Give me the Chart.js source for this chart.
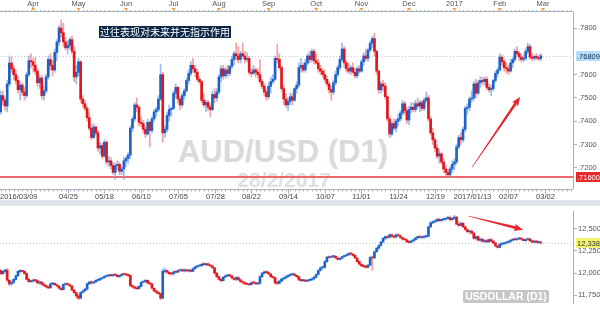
<!DOCTYPE html>
<html lang="zh">
<head>
<meta charset="UTF-8">
<title>AUD/USD (D1)</title>
<script src="https://cdn.jsdelivr.net/npm/chart.js"></script>
<style>
  body { margin: 0; width: 600px; height: 309px; overflow: hidden; background: #fff; position: relative;
         font-family: "Liberation Sans", Arial, sans-serif; }
  canvas { position: absolute; left: 0; z-index: 1; }
  #topChart { top: 0; }
  #bottomChart { top: 206px; }
  .sep { position: absolute; left: 0; top: 200px; width: 600px; height: 6px; background: #dfe4ea; }
  .wm { position: absolute; z-index: 0; font-weight: bold; white-space: nowrap; transform: translateX(-50%); }
  .wm1 { left: 283px; top: 134px; font-size: 31px; color: #dadada; }
  .wm2 { left: 284px; top: 168px; font-size: 21px; color: #e0e0e0; }
  .note { position: absolute; z-index: 2; left: 99px; top: 26px; height: 12px; line-height: 12px; padding: 0 1px;
          background: #0d2847; color: #fff; font-size: 10px; font-family: "Noto Sans CJK SC", sans-serif; }
  .tag { position: absolute; z-index: 2; left: 463px; top: 290px; width: 86px; height: 13px; line-height: 13px;
         background: #c6c6c6; color: #fff; font-weight: bold; font-size: 10.5px; text-align: center; border-radius: 2px; }
</style>
</head>
<body>
<div class="wm wm1">AUD/USD (D1)</div>
<div class="wm wm2">28/2/2017</div>
<div class="sep"></div>
<canvas id="topChart" width="600" height="200"></canvas>
<canvas id="bottomChart" width="600" height="103"></canvas>
<div class="note">过往表现对未来并无指示作用</div>
<div class="tag">USDOLLAR (D1)</div>
<script>
// daily bars, 2016/03/09 .. 2017/02/28
const audOpen = [.7440,.7460,.7440,.7510,.7490,.7465,.7560,.7650,.7625,.7600,.7575,.7535,.7555,.7525,.7510,.7600,.7660,.7655,.7640,.7615,
.7565,.7585,.7510,.7530,.7590,.7665,.7640,.7620,.7695,.7740,.7800,.7780,.7740,.7715,.7725,.7750,.7700,.7590,.7610,.7655,
.7495,.7475,.7455,.7415,.7370,.7330,.7375,.7350,.7285,.7295,.7250,.7310,.7225,.7230,.7210,.7180,.7210,.7215,.7185,.7195,
.7230,.7240,.7255,.7370,.7410,.7470,.7460,.7395,.7390,.7365,.7345,.7395,.7360,.7410,.7440,.7450,.7495,.7600,.7350,.7365,
.7425,.7450,.7455,.7520,.7545,.7495,.7470,.7510,.7530,.7575,.7605,.7640,.7625,.7610,.7580,.7570,.7490,.7470,.7480,.7460,
.7450,.7515,.7500,.7525,.7590,.7625,.7595,.7620,.7605,.7635,.7665,.7690,.7680,.7665,.7690,.7680,.7665,.7670,.7610,.7605,
.7620,.7610,.7600,.7570,.7550,.7525,.7505,.7550,.7570,.7580,.7670,.7665,.7630,.7540,.7495,.7470,.7485,.7505,.7490,.7540,
.7555,.7630,.7640,.7620,.7650,.7680,.7665,.7700,.7660,.7650,.7625,.7615,.7600,.7580,.7560,.7535,.7525,.7565,.7600,.7630,
.7665,.7710,.7650,.7625,.7615,.7630,.7610,.7595,.7625,.7615,.7655,.7680,.7670,.7705,.7735,.7755,.7700,.7615,.7535,.7560,
.7550,.7505,.7410,.7345,.7390,.7370,.7400,.7410,.7435,.7475,.7445,.7405,.7450,.7460,.7450,.7475,.7465,.7480,.7455,.7490,
.7500,.7410,.7350,.7320,.7285,.7250,.7260,.7225,.7195,.7180,.7170,.7195,.7215,.7225,.7290,.7330,.7320,.7365,.7455,.7460,
.7495,.7500,.7560,.7520,.7565,.7575,.7570,.7580,.7545,.7535,.7540,.7575,.7605,.7620,.7675,.7655,.7630,.7625,.7615,.7650,
.7665,.7700,.7690,.7675,.7665,.7670,.7700,.7720,.7675,.7670,.7678,.7672,.7668];
const audHigh = [.7480,.7490,.7530,.7530,.7500,.7575,.7680,.7675,.7640,.7620,.7590,.7570,.7565,.7545,.7610,.7680,.7690,.7670,.7675,.7625,
.7600,.7595,.7545,.7600,.7680,.7690,.7660,.7710,.7750,.7810,.7835,.7820,.7760,.7745,.7760,.7765,.7720,.7640,.7670,.7660,
.7510,.7490,.7465,.7440,.7385,.7390,.7380,.7360,.7310,.7305,.7320,.7315,.7250,.7245,.7225,.7220,.7230,.7225,.7205,.7245,
.7250,.7265,.7380,.7420,.7480,.7500,.7465,.7420,.7405,.7375,.7410,.7400,.7420,.7450,.7460,.7510,.7645,.7610,.7380,.7440,
.7470,.7460,.7530,.7560,.7550,.7505,.7520,.7540,.7585,.7620,.7655,.7670,.7640,.7620,.7590,.7575,.7520,.7490,.7490,.7470,
.7530,.7540,.7540,.7600,.7640,.7640,.7630,.7640,.7640,.7680,.7700,.7735,.7720,.7700,.7735,.7700,.7695,.7680,.7625,.7640,
.7630,.7625,.7665,.7580,.7560,.7535,.7565,.7590,.7600,.7680,.7730,.7690,.7640,.7555,.7520,.7500,.7520,.7520,.7545,.7570,
.7650,.7670,.7650,.7665,.7690,.7700,.7710,.7710,.7690,.7665,.7640,.7625,.7620,.7595,.7570,.7550,.7575,.7615,.7640,.7680,
.7735,.7720,.7660,.7650,.7640,.7650,.7625,.7635,.7640,.7665,.7695,.7710,.7715,.7745,.7765,.7778,.7705,.7620,.7570,.7575,
.7565,.7510,.7420,.7400,.7410,.7410,.7430,.7445,.7490,.7485,.7460,.7465,.7480,.7480,.7490,.7500,.7490,.7490,.7500,.7525,
.7510,.7420,.7370,.7330,.7300,.7280,.7265,.7240,.7210,.7195,.7205,.7230,.7240,.7300,.7340,.7350,.7375,.7465,.7475,.7505,
.7530,.7570,.7580,.7575,.7590,.7590,.7590,.7590,.7560,.7555,.7580,.7615,.7630,.7690,.7685,.7665,.7650,.7640,.7665,.7675,
.7710,.7720,.7700,.7690,.7685,.7710,.7735,.7730,.7690,.7685,.7690,.7685,.7690];
const audLow = [.7420,.7400,.7430,.7470,.7445,.7440,.7550,.7610,.7580,.7560,.7520,.7490,.7510,.7490,.7500,.7590,.7630,.7610,.7600,.7550,
.7540,.7495,.7490,.7520,.7580,.7620,.7595,.7610,.7660,.7725,.7760,.7720,.7705,.7690,.7710,.7690,.7570,.7560,.7595,.7480,
.7460,.7445,.7400,.7360,.7320,.7325,.7340,.7270,.7260,.7240,.7245,.7215,.7205,.7195,.7170,.7150,.7190,.7170,.7170,.7150,
.7205,.7220,.7240,.7355,.7400,.7440,.7380,.7375,.7350,.7330,.7340,.7290,.7350,.7400,.7420,.7440,.7490,.7310,.7330,.7355,
.7400,.7420,.7450,.7500,.7480,.7450,.7460,.7495,.7525,.7560,.7595,.7610,.7590,.7570,.7560,.7480,.7460,.7440,.7445,.7420,
.7445,.7480,.7485,.7515,.7570,.7580,.7585,.7590,.7595,.7625,.7640,.7660,.7650,.7650,.7675,.7650,.7655,.7600,.7590,.7600,
.7590,.7585,.7560,.7540,.7510,.7490,.7495,.7520,.7560,.7575,.7650,.7620,.7530,.7470,.7460,.7445,.7470,.7470,.7485,.7520,
.7545,.7610,.7610,.7610,.7640,.7650,.7655,.7645,.7645,.7610,.7600,.7590,.7570,.7550,.7520,.7490,.7515,.7555,.7590,.7620,
.7655,.7630,.7610,.7605,.7600,.7605,.7585,.7585,.7605,.7610,.7640,.7660,.7655,.7700,.7715,.7680,.7600,.7520,.7520,.7530,
.7495,.7400,.7330,.7335,.7360,.7355,.7380,.7400,.7425,.7430,.7390,.7385,.7435,.7440,.7440,.7455,.7440,.7445,.7445,.7480,
.7400,.7340,.7300,.7270,.7240,.7220,.7215,.7180,.7165,.7160,.7160,.7180,.7190,.7215,.7280,.7300,.7310,.7355,.7430,.7445,
.7480,.7490,.7500,.7515,.7545,.7555,.7555,.7535,.7525,.7510,.7530,.7565,.7590,.7615,.7640,.7615,.7605,.7600,.7610,.7630,
.7655,.7680,.7660,.7655,.7655,.7660,.7690,.7665,.7660,.7660,.7665,.7660,.7660];
const audClose = [.7460,.7440,.7510,.7490,.7465,.7560,.7650,.7625,.7600,.7575,.7535,.7555,.7525,.7510,.7600,.7660,.7655,.7640,.7615,.7565,
.7585,.7510,.7530,.7590,.7665,.7640,.7620,.7695,.7740,.7800,.7780,.7740,.7715,.7725,.7750,.7700,.7590,.7610,.7655,.7495,
.7475,.7455,.7415,.7370,.7330,.7375,.7350,.7285,.7295,.7250,.7310,.7225,.7230,.7210,.7180,.7210,.7215,.7185,.7195,.7230,
.7240,.7255,.7370,.7410,.7470,.7460,.7395,.7390,.7365,.7345,.7395,.7360,.7410,.7440,.7450,.7495,.7600,.7350,.7365,.7425,
.7450,.7455,.7520,.7545,.7495,.7470,.7510,.7530,.7575,.7605,.7640,.7625,.7610,.7580,.7570,.7490,.7470,.7480,.7460,.7450,
.7515,.7500,.7525,.7590,.7625,.7595,.7620,.7605,.7635,.7665,.7690,.7680,.7665,.7690,.7680,.7665,.7670,.7610,.7605,.7620,
.7610,.7600,.7570,.7550,.7525,.7505,.7550,.7570,.7580,.7670,.7665,.7630,.7540,.7495,.7470,.7485,.7505,.7490,.7540,.7555,
.7630,.7640,.7620,.7650,.7680,.7665,.7700,.7660,.7650,.7625,.7615,.7600,.7580,.7560,.7535,.7525,.7565,.7600,.7630,.7665,
.7710,.7650,.7625,.7615,.7630,.7610,.7595,.7625,.7615,.7655,.7680,.7670,.7705,.7735,.7755,.7700,.7615,.7535,.7560,.7550,
.7505,.7410,.7345,.7390,.7370,.7400,.7410,.7435,.7475,.7445,.7405,.7450,.7460,.7450,.7475,.7465,.7480,.7455,.7490,.7500,
.7410,.7350,.7320,.7285,.7250,.7260,.7225,.7195,.7180,.7170,.7195,.7215,.7225,.7290,.7330,.7320,.7365,.7455,.7460,.7495,
.7500,.7560,.7520,.7565,.7575,.7570,.7580,.7545,.7535,.7540,.7575,.7605,.7620,.7675,.7655,.7630,.7625,.7615,.7650,.7665,
.7700,.7690,.7675,.7665,.7670,.7700,.7720,.7675,.7670,.7678,.7672,.7668,.76809];

const usdOpen = [12040,12050,12030,11995,12020,12035,11920,11880,11895,11930,11970,12020,12025,12020,11995,11930,11905,11912,11920,11915,
11890,11900,11875,11860,11845,11835,11880,11885,11870,11855,11830,11815,11875,11880,11870,11855,11810,11780,11745,11720,
11785,11800,11820,11880,11900,11890,11900,11918,11925,11940,11948,11962,11970,11975,11972,11985,11978,11960,11975,11990,
11985,11980,11975,11860,11845,11830,11825,11852,11898,11905,11920,11890,11880,11830,11800,11785,11770,11720,12020,12030,
12010,11995,11990,12015,12010,12030,12035,12025,12030,12025,12030,12020,12050,12070,12080,12085,12100,12095,12105,12090,
12080,12060,12000,11960,11930,11915,11955,11970,11980,11970,11945,11930,11950,11925,11905,11895,11880,11875,11870,11895,
11890,11880,11888,11960,12000,12015,12005,11990,11960,11950,11890,11885,11910,11935,11945,11960,11975,11985,11990,11975,
11960,11925,11915,11920,11910,11918,11925,11935,11955,11985,12030,12060,12065,12130,12180,12175,12185,12190,12170,12155,
12165,12185,12195,12205,12220,12215,12200,12170,12130,12100,12080,12075,12065,12090,12175,12170,12240,12280,12310,12350,
12390,12410,12400,12430,12415,12405,12430,12420,12400,12380,12375,12350,12345,12360,12375,12395,12410,12400,12405,12410,
12415,12520,12565,12575,12585,12605,12590,12600,12605,12615,12625,12600,12615,12630,12550,12535,12560,12520,12490,12465,
12470,12450,12390,12410,12370,12380,12355,12365,12350,12378,12360,12340,12305,12290,12325,12330,12338,12345,12355,12370,
12378,12375,12385,12392,12380,12365,12378,12385,12362,12348,12360,12345,12350];
const usdHigh = [12070,12080,12040,12030,12045,12050,11930,11910,11940,11980,12030,12040,12035,12030,12005,11950,11920,11935,11930,11925,
11910,11905,11890,11870,11860,11890,11895,11890,11880,11865,11845,11880,11890,11895,11880,11865,11815,11790,11760,11790,
11810,11830,11890,11910,11915,11905,11925,11935,11950,11955,11975,11980,11985,11990,11990,11995,11985,11980,11995,12000,
11995,11990,11980,11870,11855,11850,11860,11905,11915,11930,11925,11900,11885,11835,11810,11795,11775,12050,12060,12040,
12020,12010,12025,12030,12040,12045,12050,12050,12045,12040,12045,12060,12080,12090,12095,12110,12115,12110,12115,12100,
12090,12065,12010,11970,11945,11960,11980,11990,11990,11975,11950,11960,11960,11935,11915,11905,11890,11885,11900,11905,
11900,11895,11970,12010,12025,12030,12020,12000,11970,11955,11905,11920,11940,11955,11970,11980,11995,12000,12000,11985,
11965,11935,11930,11930,11925,11935,11945,11965,11995,12040,12070,12080,12140,12190,12195,12195,12200,12200,12180,12175,
12190,12200,12215,12230,12235,12225,12210,12175,12140,12110,12090,12090,12100,12190,12195,12250,12290,12320,12360,12400,
12420,12420,12440,12440,12425,12440,12445,12430,12405,12395,12385,12365,12370,12385,12400,12420,12425,12415,12420,12425,
12530,12580,12590,12595,12615,12620,12610,12615,12625,12640,12640,12625,12650,12640,12575,12575,12570,12530,12500,12480,
12490,12460,12420,12420,12390,12395,12375,12380,12385,12390,12370,12345,12315,12330,12340,12345,12355,12365,12375,12385,
12395,12395,12400,12405,12390,12385,12395,12390,12375,12370,12368,12360,12360];
const usdLow = [12010,12000,11980,11980,12000,11900,11860,11865,11885,11920,11960,12005,12010,11985,11920,11890,11895,11895,11905,11880,
11870,11865,11850,11835,11825,11830,11865,11860,11845,11820,11805,11810,11860,11860,11845,11800,11770,11720,11700,11710,
11770,11790,11810,11870,11880,11880,11890,11905,11915,11930,11940,11955,11960,11965,11960,11970,11950,11950,11965,11975,
11970,11960,11850,11835,11820,11815,11820,11845,11890,11895,11880,11870,11820,11790,11770,11760,11700,11710,12000,11995,
11980,11975,11980,12000,12005,12020,12015,12010,12015,12010,12015,12015,12040,12060,12070,12075,12085,12080,12085,12070,
12050,11990,11950,11920,11900,11910,11945,11960,11960,11935,11920,11915,11920,11895,11880,11870,11865,11860,11865,11880,
11870,11870,11870,11950,11990,11995,11980,11945,11940,11880,11870,11880,11905,11925,11935,11950,11965,11970,11965,11950,
11915,11900,11905,11905,11900,11910,11915,11925,11945,11980,12020,12040,12055,12120,12165,12170,12170,12160,12145,12145,
12160,12180,12185,12195,12205,12190,12160,12120,12090,12070,12060,12055,12060,12085,12030,12160,12230,12260,12300,12340,
12375,12385,12395,12400,12390,12400,12415,12390,12370,12365,12340,12335,12340,12355,12365,12385,12395,12385,12390,12395,
12405,12510,12555,12565,12575,12580,12575,12590,12595,12605,12590,12590,12600,12540,12520,12530,12510,12480,12450,12440,
12440,12380,12370,12360,12355,12345,12340,12345,12345,12350,12330,12295,12280,12285,12310,12320,12325,12335,12345,12360,
12365,12365,12375,12370,12360,12355,12370,12355,12340,12340,12335,12330,12330];
const usdClose = [12050,12030,11995,12020,12035,11920,11880,11895,11930,11970,12020,12025,12020,11995,11930,11905,11912,11920,11915,11890,
11900,11875,11860,11845,11835,11880,11885,11870,11855,11830,11815,11875,11880,11870,11855,11810,11780,11745,11720,11785,
11800,11820,11880,11900,11890,11900,11918,11925,11940,11948,11962,11970,11975,11972,11985,11978,11960,11975,11990,11985,
11980,11975,11860,11845,11830,11825,11852,11898,11905,11920,11890,11880,11830,11800,11785,11770,11720,12020,12030,12010,
11995,11990,12015,12010,12030,12035,12025,12030,12025,12030,12020,12050,12070,12080,12085,12100,12095,12105,12090,12080,
12060,12000,11960,11930,11915,11955,11970,11980,11970,11945,11930,11950,11925,11905,11895,11880,11875,11870,11895,11890,
11880,11888,11960,12000,12015,12005,11990,11960,11950,11890,11885,11910,11935,11945,11960,11975,11985,11990,11975,11960,
11925,11915,11920,11910,11918,11925,11935,11955,11985,12030,12060,12065,12130,12180,12175,12185,12190,12170,12155,12165,
12185,12195,12205,12220,12215,12200,12170,12130,12100,12080,12075,12065,12090,12175,12170,12240,12280,12310,12350,12390,
12410,12400,12430,12415,12405,12430,12420,12400,12380,12375,12350,12345,12360,12375,12395,12410,12400,12405,12410,12415,
12520,12565,12575,12585,12605,12590,12600,12605,12615,12625,12600,12615,12630,12550,12535,12560,12520,12490,12465,12470,
12450,12390,12410,12370,12380,12355,12365,12350,12378,12360,12340,12305,12290,12325,12330,12338,12345,12355,12370,12378,
12375,12385,12392,12380,12365,12378,12385,12362,12348,12360,12345,12350,12338];

// axis labels (bar index where each label sits)
const monthLabels = ['Apr','May','Jun','Jul','Aug','Sep','Oct','Nov','Dec','2017','Feb','Mar'];
const monthIdx = [17, 38, 60, 82, 103, 126, 148, 169, 191, 212, 233, 253];
const dateLabels = ['2016/03/09','','04/25','05/18','06/10','07/05','07/28','08/22','09/14','10/07','11/01','11/24','12/19','2017/01/13','02/07','03/02'];
const dateIdx = [0, 16, 33, 50, 67, 84, 101, 118, 135, 152, 169, 186, 203, 220, 237, 254];
const audTicks = [.72, .73, .74, .75, .76, .78];
const usdTicks = [11750, 12000, 12250, 12500];
const supportLevel = .7160;
const arrowUp = [[220.2, .7203], [242.4, .7504]];
const arrowDown = [[218.4, 12642], [243.8, 12488]];

const xMin = 1.67, xMax = 266.9;
const axisColor = '#a9b2bc';
const labelFont = { family: '"Liberation Sans", Arial, sans-serif', size: 7.5 };
const upBody = '#1d62c9', downBody = '#e3141b';
const upWick = 'rgba(118,165,228,0.75)', downWick = 'rgba(240,120,120,0.7)';

function candleSets(o, h, l, c) {
  const up = c.map((v, i) => v >= o[i]);
  return [
    { data: c.map((v, i) => ({ x: i, y: [l[i], h[i]] })), backgroundColor: up.map(u => u ? upWick : downWick),
      barThickness: 1, grouped: false, order: 2, clip: 0 },
    { data: c.map((v, i) => ({ x: i, y: [o[i], v] })), backgroundColor: up.map(u => u ? upBody : downBody),
      barThickness: 2, grouped: false, order: 1, minBarLength: 1, clip: 0 }
  ];
}

function drawArrow(ctx, x1, y1, x2, y2) {
  const ang = Math.atan2(y2 - y1, x2 - x1), len = Math.hypot(x2 - x1, y2 - y1);
  ctx.save();
  ctx.translate(x1, y1); ctx.rotate(ang);
  ctx.fillStyle = '#e8232b';
  ctx.beginPath();
  ctx.moveTo(0, -0.3); ctx.lineTo(len - 8, -1.4); ctx.lineTo(len - 9, -3.6); ctx.lineTo(len, 0);
  ctx.lineTo(len - 9, 3.6); ctx.lineTo(len - 8, 1.4); ctx.lineTo(0, 0.3);
  ctx.closePath(); ctx.fill();
  ctx.restore();
}

function priceBox(ctx, yPix, text, bg, fg) {
  ctx.fillStyle = bg;
  ctx.fillRect(576, Math.round(yPix) - 5, 24, 10);
  ctx.fillStyle = fg;
  ctx.font = '7.5px "Liberation Sans", Arial, sans-serif';
  ctx.textAlign = 'left'; ctx.textBaseline = 'middle';
  ctx.fillText(text, 577, Math.round(yPix) + 0.5);
}

function dottedLine(ctx, a, yPix) {
  const yy = Math.round(yPix) + 0.5;
  ctx.save();
  ctx.strokeStyle = '#c9c9c9'; ctx.lineWidth = 1; ctx.setLineDash([1, 2]);
  ctx.beginPath(); ctx.moveTo(a.left, yy); ctx.lineTo(a.right, yy); ctx.stroke();
  ctx.restore();
}

const topDecor = {
  id: 'topDecor',
  beforeDatasetsDraw(chart) {
    const { ctx, chartArea: a, scales: { y } } = chart;
    dottedLine(ctx, a, y.getPixelForValue(audClose[audClose.length - 1]));
    const ys = Math.round(y.getPixelForValue(supportLevel));
    ctx.save();
    ctx.strokeStyle = 'rgba(236,90,90,0.9)'; ctx.lineWidth = 2;
    ctx.beginPath(); ctx.moveTo(a.left, ys); ctx.lineTo(a.right, ys); ctx.stroke();
    ctx.restore();
  },
  afterDraw(chart) {
    const { ctx, chartArea: a, scales: { x, y } } = chart;
    ctx.save();
    // top month ruler
    ctx.strokeStyle = axisColor; ctx.lineWidth = 1;
    ctx.beginPath(); ctx.moveTo(0, a.top - 0.5); ctx.lineTo(a.right, a.top - 0.5); ctx.stroke();
    ctx.font = '7.5px "Liberation Sans", Arial, sans-serif';
    ctx.textAlign = 'center'; ctx.textBaseline = 'middle';
    for (let k = 2; k < xMax; k += 2) {
      const px = Math.round(x.getPixelForValue(k)) + 0.5;
      ctx.beginPath(); ctx.moveTo(px, a.top - 2); ctx.lineTo(px, a.top); ctx.stroke();
    }
    monthLabels.forEach((m, i) => {
      const px = x.getPixelForValue(monthIdx[i]);
      ctx.fillStyle = '#555';
      ctx.fillText(m, px, 4);
      ctx.fillStyle = '#f0a030';
      ctx.beginPath(); ctx.moveTo(px - 2, 8); ctx.lineTo(px + 2, 8); ctx.lineTo(px, 11); ctx.closePath(); ctx.fill();
    });
    // bottom date ruler
    const yb = a.bottom + 1.5;
    ctx.beginPath(); ctx.moveTo(0, yb); ctx.lineTo(a.right, yb); ctx.stroke();
    for (let k = 2; k < xMax; k += 2) {
      const px = Math.round(x.getPixelForValue(k)) + 0.5;
      ctx.beginPath(); ctx.moveTo(px, yb); ctx.lineTo(px, yb + 2); ctx.stroke();
    }
    ctx.fillStyle = '#444';
    dateLabels.forEach((d, i) => {
      const px = Math.round(x.getPixelForValue(dateIdx[i])) + 0.5;
      ctx.beginPath(); ctx.moveTo(px, yb); ctx.lineTo(px, yb + 4); ctx.stroke();
      if (!d) return;
      if (i === 0) { ctx.textAlign = 'left'; ctx.fillText(d, 0, 197); }
      else { ctx.textAlign = 'center'; ctx.fillText(d, px, 197); }
    });
    // annotation arrow
    drawArrow(ctx, x.getPixelForValue(arrowUp[0][0]), y.getPixelForValue(arrowUp[0][1]),
                   x.getPixelForValue(arrowUp[1][0]), y.getPixelForValue(arrowUp[1][1]));
    // price tags
    priceBox(ctx, y.getPixelForValue(audClose[audClose.length - 1]),
             audClose[audClose.length - 1].toFixed(5).slice(1), '#b6dcf6', '#0d2f5c');
    priceBox(ctx, y.getPixelForValue(supportLevel), supportLevel.toFixed(5).slice(1), '#e52a2a', '#fff');
    ctx.restore();
  }
};

const bottomDecor = {
  id: 'bottomDecor',
  beforeDatasetsDraw(chart) {
    const { ctx, chartArea: a, scales: { y } } = chart;
    dottedLine(ctx, a, y.getPixelForValue(usdClose[usdClose.length - 1]));
  },
  afterDraw(chart) {
    const { ctx, scales: { x, y } } = chart;
    ctx.save();
    drawArrow(ctx, x.getPixelForValue(arrowDown[0][0]), y.getPixelForValue(arrowDown[0][1]),
                   x.getPixelForValue(arrowDown[1][0]), y.getPixelForValue(arrowDown[1][1]));
    const last = usdClose[usdClose.length - 1];
    priceBox(ctx, y.getPixelForValue(last), last.toLocaleString('en-US'), '#f3f36e', '#333');
    ctx.restore();
  }
};

function makeChart(id, sets, yMin, yMax, ticks, fmt, padding, plugin) {
  return new Chart(document.getElementById(id), {
    type: 'bar',
    data: { datasets: sets },
    plugins: [plugin],
    options: {
      responsive: false,
      animation: false,
      events: [],
      layout: { padding },
      plugins: { legend: { display: false }, tooltip: { enabled: false } },
      scales: {
        x: { type: 'linear', display: false, min: xMin, max: xMax, offset: false },
        y: {
          position: 'right', min: yMin, max: yMax,
          afterFit: s => { s.width = 27; },
          afterBuildTicks: s => { s.ticks = ticks.map(v => ({ value: v })); },
          ticks: { callback: fmt, font: labelFont, color: '#555', padding: 1, autoSkip: false },
          grid: { drawOnChartArea: false, tickLength: 4, color: axisColor },
          border: { color: axisColor }
        }
      }
    }
  });
}

makeChart('topChart', candleSets(audOpen, audHigh, audLow, audClose), .71133, .78687, audTicks,
          v => v.toFixed(4).slice(1), { top: 12, bottom: 12, left: 0, right: 0 }, topDecor);
makeChart('bottomChart', candleSets(usdOpen, usdHigh, usdLow, usdClose), 11659, 12692, usdTicks,
          v => v.toLocaleString('en-US'), { top: 1, bottom: 0, left: 0, right: 0 }, bottomDecor);
</script>
</body>
</html>
